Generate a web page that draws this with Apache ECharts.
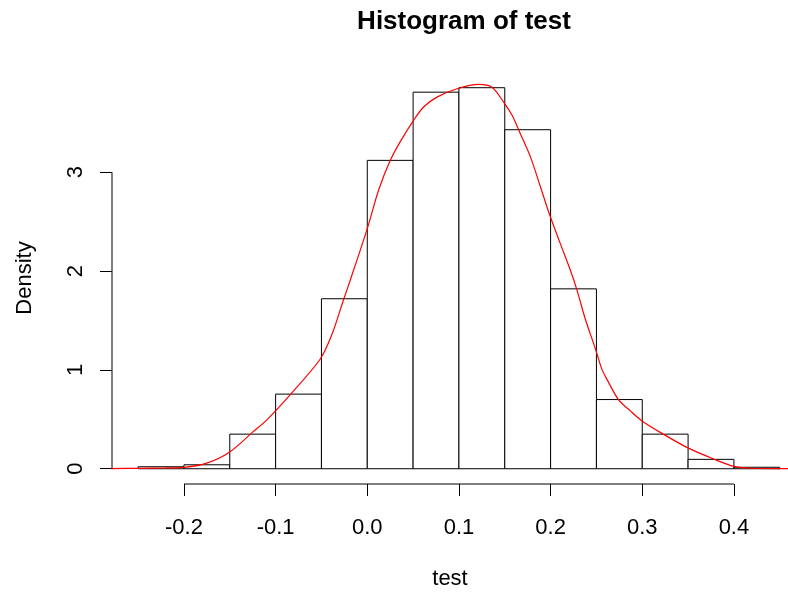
<!DOCTYPE html>
<html>
<head>
<meta charset="utf-8">
<script src="https://cdn.jsdelivr.net/npm/echarts@6/dist/echarts.min.js"></script>
<style>html,body{margin:0;padding:0;background:#fff;}#chart{width:788px;height:595px;}</style>
</head>
<body>
<div id="chart"></div>
<script>
// ---- data ----
const binEdges = [-0.25, -0.2, -0.15, -0.1, -0.05, 0.0, 0.05, 0.1, 0.15, 0.2, 0.25, 0.3, 0.35, 0.4, 0.45];
const densities = [0.02, 0.04, 0.35, 0.755, 1.72, 3.12, 3.81, 3.855, 3.43, 1.82, 0.70, 0.35, 0.095, 0.015];
const curveX = [-0.28, -0.25, -0.22, -0.2, -0.175, -0.15, -0.125, -0.109, -0.084, -0.0513, -0.0385, -0.0259, -0.0185, 0.0, 0.0124, 0.0251, 0.036, 0.0505, 0.0614, 0.076, 0.0979, 0.1215, 0.136, 0.1487, 0.158, 0.167, 0.178, 0.189, 0.1978, 0.2105, 0.2215, 0.2287, 0.238, 0.249, 0.256, 0.2615, 0.274, 0.287, 0.2997, 0.323, 0.3487, 0.378, 0.40, 0.42, 0.46, 0.49];
const curveY = [0.002, 0.004, 0.008, 0.014, 0.057, 0.17, 0.37, 0.50, 0.75, 1.11, 1.36, 1.71, 1.91, 2.43, 2.82, 3.12, 3.31, 3.525, 3.66, 3.76, 3.845, 3.888, 3.86, 3.71, 3.576, 3.39, 3.155, 2.85, 2.60, 2.28, 2.01, 1.81, 1.51, 1.21, 1.005, 0.904, 0.70, 0.585, 0.484, 0.35, 0.216, 0.098, 0.024, 0.005, 0.001, 0.0];
const xTicks = [-0.2, -0.1, 0.0, 0.1, 0.2, 0.3, 0.4];
const yTicks = [0, 1, 2, 3];
const titleText = 'Histogram of test';
const xName = 'test';
const yName = 'Density';

// ---- derived ----
const xMin = -0.2785, xMax = 0.459;
const yMin = -0.1544, yMax = 4.014;
const bars = densities.map((d, i) => [binEdges[i], binEdges[i + 1], d]);
const curve = curveX.map((x, i) => [x, curveY[i]]);
const font = "'Liberation Sans', Arial, Helvetica, sans-serif";

const chart = echarts.init(document.getElementById('chart'), null, {renderer: 'canvas'});
chart.setOption({
  animation: false,
  backgroundColor: '#ffffff',
  title: {
    text: titleText,
    left: 459, top: 4,
    textAlign: 'center',
    textStyle: {fontFamily: font, fontSize: 26, fontWeight: 'bold', color: '#000'}
  },
  grid: {left: 112, right: 0, top: 72, bottom: 109, containLabel: false},
  xAxis: {
    type: 'value', min: xMin, max: xMax,
    name: xName, nameLocation: 'middle', nameGap: 84,
    nameTextStyle: {fontFamily: font, fontSize: 22, color: '#000'},
    axisLine: {show: false, onZero: false},
    splitLine: {show: false},
    axisTick: {show: true, customValues: xTicks, length: 12, inside: false, lineStyle: {color: '#000', width: 1}},
    axisLabel: {customValues: xTicks, fontFamily: font, fontSize: 22, color: '#000', margin: 33,
      formatter: v => v.toFixed(1)}
  },
  yAxis: {
    type: 'value', min: yMin, max: yMax,
    name: yName, nameLocation: 'middle', nameGap: 76, nameRotate: 90,
    nameTextStyle: {fontFamily: font, fontSize: 22, color: '#000'},
    axisLine: {show: false, onZero: false},
    splitLine: {show: false},
    axisTick: {show: true, customValues: yTicks, length: 12, inside: false, lineStyle: {color: '#000', width: 1}},
    axisLabel: {customValues: yTicks, rotate: 90, fontFamily: font, fontSize: 22, color: '#000', margin: 25,
      formatter: v => String(Math.round(v))}
  },
  series: [
    {
      type: 'custom',
      data: bars,
      clip: true,
      renderItem: function (params, api) {
        const p0 = api.coord([api.value(0), 0]);
        const p1 = api.coord([api.value(1), api.value(2)]);
        return {
          type: 'rect',
          shape: {x: p0[0], y: p1[1], width: p1[0] - p0[0], height: p0[1] - p1[1]},
          style: {fill: '#ffffff', stroke: '#000000', lineWidth: 1}
        };
      },
      z: 2
    },
    {
      type: 'line',
      data: curve,
      showSymbol: false,
      smooth: 0.3,
      clip: true,
      lineStyle: {color: '#ff0000', width: 1.2},
      z: 3
    },
    {
      type: 'line',
      data: [[xTicks[0], yMin], [xTicks[xTicks.length - 1], yMin]],
      showSymbol: false, clip: false,
      lineStyle: {color: '#000', width: 1},
      z: 4
    },
    {
      type: 'line',
      data: [[xMin, yTicks[0]], [xMin, yTicks[yTicks.length - 1]]],
      showSymbol: false, clip: false,
      lineStyle: {color: '#000', width: 1},
      z: 4
    }
  ]
});
</script>
</body>
</html>
